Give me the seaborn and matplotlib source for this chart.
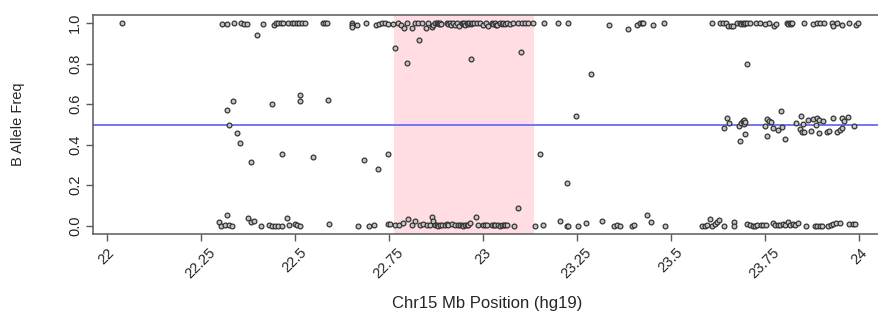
import numpy as np
import pandas as pd
import matplotlib
matplotlib.use("Agg")
import matplotlib.pyplot as plt
import seaborn as sns

# ==========================================
# data
# ==========================================
# SNPs near BAF 1.0
top_pos = [22.041, 22.308, 22.319, 22.339, 22.356, 22.365, 22.374, 22.399, 22.415, 22.445,
           22.449, 22.455, 22.463, 22.468, 22.481, 22.493, 22.498, 22.505, 22.512, 22.519,
           22.527, 22.576, 22.581, 22.587, 22.652, 22.652, 22.652, 22.665, 22.689, 22.716,
           22.723, 22.732, 22.739, 22.749, 22.762, 22.776, 22.782, 22.791, 22.798, 22.813,
           22.820, 22.829, 22.838, 22.849, 22.855, 22.864, 22.869, 22.873, 22.878, 22.882,
           22.884, 22.886, 22.888, 22.904, 22.908, 22.913, 22.916, 22.920, 22.926, 22.932,
           22.938, 22.944, 22.948, 22.950, 22.953, 22.957, 22.960, 22.964, 22.968, 22.971,
           22.977, 22.984, 22.993, 23.002, 23.009, 23.015, 23.024, 23.028, 23.033, 23.036,
           23.039, 23.046, 23.050, 23.055, 23.060, 23.064, 23.073, 23.081, 23.095, 23.104,
           23.113, 23.121, 23.135, 23.164, 23.201, 23.228, 23.335, 23.387, 23.410, 23.417,
           23.423, 23.427, 23.454, 23.482, 23.609, 23.631, 23.638, 23.647, 23.653, 23.660,
           23.666, 23.676, 23.684, 23.688, 23.691, 23.694, 23.698, 23.704, 23.711, 23.727,
           23.736, 23.751, 23.760, 23.775, 23.780, 23.809, 23.812, 23.816, 23.819, 23.822,
           23.853, 23.878, 23.888, 23.897, 23.908, 23.928, 23.932, 23.941, 23.955, 23.974,
           23.993, 23.999]
top_baf = [1.0, 0.995, 0.995, 1.0, 1.0, 0.995, 0.995, 0.94, 0.995, 0.99,
           1.0, 1.0, 1.0, 1.0, 1.0, 1.0, 1.0, 1.0, 1.0, 1.0,
           1.0, 1.0, 1.0, 1.0, 1.0, 0.99, 0.98, 0.99, 1.0, 0.99,
           0.995, 1.0, 1.0, 0.995, 0.995, 1.0, 0.99, 0.978, 1.0, 0.975,
           1.0, 1.0, 1.0, 0.978, 1.0, 0.98, 0.99, 1.0, 1.0, 1.0,
           0.995, 1.0, 0.995, 1.0, 0.995, 1.0, 0.99, 1.0, 0.99, 1.0,
           0.985, 1.0, 0.995, 1.0, 0.99, 1.0, 0.995, 1.0, 0.995, 1.0,
           1.0, 1.0, 1.0, 0.99, 1.0, 0.985, 1.0, 0.995, 1.0, 0.99,
           0.99, 1.0, 0.995, 1.0, 0.995, 1.0, 0.995, 1.0, 1.0, 1.0,
           1.0, 1.0, 1.0, 1.0, 1.0, 1.0, 0.99, 0.97, 0.99, 1.0,
           1.0, 1.0, 0.99, 1.0, 1.0, 1.0, 1.0, 1.0, 0.985, 0.985,
           0.985, 1.0, 1.0, 0.995, 1.0, 0.995, 1.0, 1.0, 1.0, 1.0,
           1.0, 0.995, 1.0, 0.985, 0.995, 1.0, 0.995, 1.0, 0.995, 1.0,
           1.0, 0.995, 1.0, 1.0, 1.0, 1.0, 0.985, 1.0, 0.99, 1.0,
           0.99, 1.0]

# SNPs away from 0 / 1 (heterozygous and outliers)
mid_pos = [22.335, 22.320, 22.326, 22.346, 22.355, 22.384, 22.441, 22.465, 22.513, 22.515,
           22.548, 22.589, 22.684, 22.722, 22.749, 22.767, 22.831, 22.798, 22.969, 23.102,
           23.288, 23.249, 23.152, 23.225, 23.095, 23.704,
           23.649, 23.654, 23.642, 23.682, 23.686, 23.691, 23.696, 23.695, 23.698, 23.698,
           23.684, 23.755, 23.761, 23.766, 23.751, 23.771, 23.786, 23.796, 23.793, 23.755,
           23.803, 23.833, 23.845, 23.851, 23.844, 23.849, 23.855, 23.866, 23.878, 23.888,
           23.894, 23.906, 23.886, 23.872, 23.895, 23.915, 23.922, 23.931, 23.941, 23.950,
           23.955, 23.955, 23.961, 23.972, 23.986]
mid_baf = [0.616, 0.572, 0.499, 0.456, 0.407, 0.316, 0.601, 0.356, 0.646, 0.618,
           0.341, 0.620, 0.326, 0.280, 0.354, 0.879, 0.919, 0.804, 0.822, 0.858,
           0.751, 0.541, 0.353, 0.211, 0.086, 0.799,
           0.531, 0.506, 0.481, 0.494, 0.506, 0.517, 0.522, 0.501, 0.511, 0.455,
           0.420, 0.527, 0.517, 0.514, 0.494, 0.484, 0.473, 0.488, 0.567, 0.445,
           0.428, 0.509, 0.543, 0.501, 0.478, 0.464, 0.464, 0.522, 0.527, 0.531,
           0.522, 0.517, 0.497, 0.468, 0.456, 0.464, 0.468, 0.531, 0.464, 0.473,
           0.482, 0.531, 0.517, 0.539, 0.494]

# SNPs near BAF 0.0
low_pos = [22.299, 22.304, 22.321, 22.316, 22.326, 22.332, 22.376, 22.383, 22.393, 22.410,
           22.432, 22.441, 22.448, 22.456, 22.466, 22.480, 22.484, 22.500, 22.507, 22.515,
           22.592, 22.668, 22.698, 22.710, 22.749, 22.753, 22.767, 22.778, 22.789, 22.800,
           22.811, 22.820, 22.833, 22.842, 22.851, 22.860, 22.864, 22.869, 22.872, 22.878,
           22.882, 22.886, 22.891, 22.900, 22.905, 22.909, 22.918, 22.926, 22.935, 22.940,
           22.944, 22.948, 22.953, 22.958, 22.962, 22.966, 22.981, 22.988, 23.002, 23.006,
           23.011, 23.024, 23.029, 23.033, 23.041, 23.046, 23.050, 23.057, 23.060, 23.064,
           23.084, 23.140, 23.161, 23.206, 23.223, 23.226, 23.254, 23.274, 23.316, 23.350,
           23.356, 23.365, 23.396, 23.402, 23.436, 23.447, 23.486, 23.582, 23.591, 23.597,
           23.604, 23.609, 23.617, 23.624, 23.629, 23.642, 23.668, 23.668, 23.702, 23.711,
           23.718, 23.724, 23.730, 23.739, 23.746, 23.753, 23.771, 23.777, 23.784, 23.791,
           23.798, 23.804, 23.813, 23.817, 23.824, 23.831, 23.839, 23.860, 23.884, 23.890,
           23.897, 23.902, 23.919, 23.926, 23.932, 23.940, 23.950, 23.975, 23.984, 23.991]
low_baf = [0.020, 0.0, 0.053, 0.005, 0.005, 0.0, 0.040, 0.017, 0.023, 0.0,
           0.002, 0.0, 0.0, 0.0, 0.0, 0.036, 0.005, 0.010, 0.005, 0.0,
           0.010, 0.0, 0.0, 0.002, 0.007, 0.008, 0.003, 0.003, 0.012, 0.033,
           0.003, 0.023, 0.003, 0.008, 0.003, 0.003, 0.041, 0.023, 0.006, 0.003,
           0.0, 0.006, 0.003, 0.003, 0.008, 0.003, 0.008, 0.003, 0.003, 0.006,
           0.003, 0.0, 0.003, 0.006, 0.003, 0.012, 0.043, 0.003, 0.003, 0.006,
           0.003, 0.003, 0.006, 0.003, 0.003, 0.0, 0.003, 0.003, 0.006, 0.003,
           0.0, 0.0, 0.005, 0.023, 0.0, 0.0, 0.0, 0.013, 0.022, 0.0,
           0.005, 0.0, 0.0, 0.005, 0.054, 0.021, 0.0, 0.0, 0.0, 0.005,
           0.033, 0.0, 0.008, 0.020, 0.028, 0.0, 0.020, 0.0, 0.008, 0.003,
           0.0, 0.0, 0.003, 0.003, 0.003, 0.003, 0.012, 0.003, 0.003, 0.003,
           0.007, 0.003, 0.020, 0.003, 0.007, 0.003, 0.012, 0.0, 0.0, 0.0,
           0.0, 0.0, 0.0, 0.003, 0.007, 0.012, 0.012, 0.007, 0.008, 0.008]

roh_region = [22.765, 23.137]   # shaded region (Mb)
het_line = 0.5
x_ticks = [22, 22.25, 22.5, 22.75, 23, 23.25, 23.5, 23.75, 24]
x_tick_labels = ["22", "22.25", "22.5", "22.75", "23", "23.25", "23.5", "23.75", "24"]
y_ticks = [0.0, 0.2, 0.4, 0.6, 0.8, 1.0]

df = pd.DataFrame({
    "pos": top_pos + mid_pos + low_pos,
    "baf": top_baf + mid_baf + low_baf,
})

# ==========================================
# plot
# ==========================================
sns.set_theme(style="white")
plt.rcParams["font.family"] = ["Liberation Sans", "DejaVu Sans"]

fig = plt.figure(figsize=(8.79, 3.22), dpi=100)
# the reference is cropped on the right, so the axes run past the figure edge
ax = fig.add_axes([0.1061, 0.2724, 0.903, 0.681])

ax.axvspan(roh_region[0], roh_region[1], color="#ffdde3", lw=0, zorder=0)
ax.axhline(het_line, color="#7474f8", lw=1.4, zorder=1)

sns.scatterplot(data=df, x="pos", y="baf", ax=ax, marker="o", s=12,
                facecolor="#c4c4c4", edgecolor="#2e2e2e", linewidth=0.85, zorder=3)

ax.set_xlim(21.9644, 24.075)
ax.set_ylim(-0.042, 1.041)
ax.set_xticks(x_ticks)
ax.set_xticklabels(x_tick_labels, rotation=45, ha="center", va="top", fontsize=10.5)
ax.set_yticks(y_ticks)
ax.set_yticklabels([f"{v:.1f}" for v in y_ticks], rotation=90, va="center", fontsize=10.5)

for s in ax.spines.values():
    s.set_color("#5a5a5a")
    s.set_linewidth(1.1)
ax.tick_params(axis="both", direction="out", length=5, width=1.0, color="#5a5a5a",
               pad=3, left=True, bottom=True)

ax.set_xlabel("Chr15 Mb Position (hg19)", fontsize=12)
ax.xaxis.set_label_coords(0.496, -0.28)
ax.set_ylabel("B Allele Freq", fontsize=10.5)
ax.yaxis.set_label_coords(-0.086, 0.5)

fig.savefig("out.png", dpi=100)
